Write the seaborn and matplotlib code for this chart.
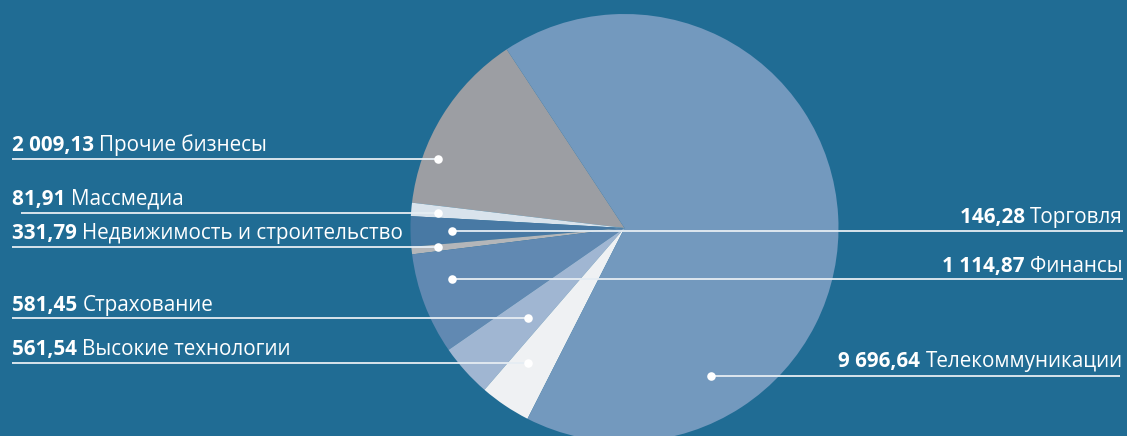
import matplotlib
matplotlib.use("Agg")
import matplotlib.pyplot as plt
import seaborn as sns

# Sector totals, counter-clockwise from the "other businesses" wedge
sectors = ["Прочие бизнесы", "Торговля", "Недвижимость и строительство", "Массмедиа",
           "Финансы", "Страхование", "Высокие технологии", "Телекоммуникации"]
values = [2009.13, 146.28, 331.79, 81.91, 1114.87, 581.45, 561.54, 9696.64]
value_labels = ["2 009,13", "146,28", "331,79", "81,91", "1 114,87", "581,45", "561,54", "9 696,64"]

slice_colors = ["#9c9ea3", "#d9e3ec", "#4879a4", "#b4b6b9",
                "#6189b2", "#a0b6d2", "#eff1f3", "#7399be"]
BG = "#206c94"

sns.set_theme(style="white")
plt.rcParams["font.family"] = ["Open Sans", "DejaVu Sans"]
FS = 14.9

W, H = 1127, 436
fig = plt.figure(figsize=(W / 100, H / 100), dpi=100, facecolor=BG)
ax = fig.add_axes([0, 0, 1, 1])
ax.set_facecolor(BG)

cx, cy, r = 624.5, H - 228, 214
ax.pie(values, colors=sns.color_palette(slice_colors), startangle=123.4,
       counterclock=True, center=(cx, cy), radius=r,
       wedgeprops=dict(linewidth=0))
ax.set_xlim(0, W)
ax.set_ylim(0, H)
ax.set_aspect("equal")
ax.axis("off")

# Leader layout: (sector index, side, text baseline y, line y, line start/end x, dot x)
leaders = [
    (0, "left", 151.5, 159.3, 12, 438),
    (3, "left", 205.0, 212.8, 21, 438),
    (2, "left", 239.0, 246.7, 12, 438),
    (5, "left", 310.7, 318.3, 12, 528),
    (6, "left", 355.0, 362.8, 12, 528),
    (1, "right", 223.3, 230.8, 1123, 452),
    (4, "right", 271.7, 278.6, 1123, 452),
    (7, "right", 366.7, 375.5, 1120, 711),
]

line_col = "#e6edf3"
for idx, side, ty, ly, lx, dx in leaders:
    ax.plot([lx, dx], [H - ly, H - ly], color=line_col, lw=1.3,
            solid_capstyle="butt", zorder=3)
    ax.scatter([dx], [H - ly], s=38, color="white", zorder=4, linewidths=0)
    if side == "left":
        t = ax.text(12, H - ty, value_labels[idx] + " ", color="white",
                    fontsize=FS, fontweight="bold", ha="left", va="baseline")
        fig.canvas.draw()
        bb = t.get_window_extent()
        ax.text(bb.x1, H - ty, sectors[idx], color="white", fontsize=FS,
                ha="left", va="baseline")
    else:
        t = ax.text(1123, H - ty, sectors[idx], color="white", fontsize=FS,
                    ha="right", va="baseline")
        fig.canvas.draw()
        bb = t.get_window_extent()
        ax.text(bb.x0, H - ty, value_labels[idx] + " ", color="white",
                fontsize=FS, fontweight="bold", ha="right", va="baseline")

fig.savefig("out.png", dpi=100, facecolor=BG)
